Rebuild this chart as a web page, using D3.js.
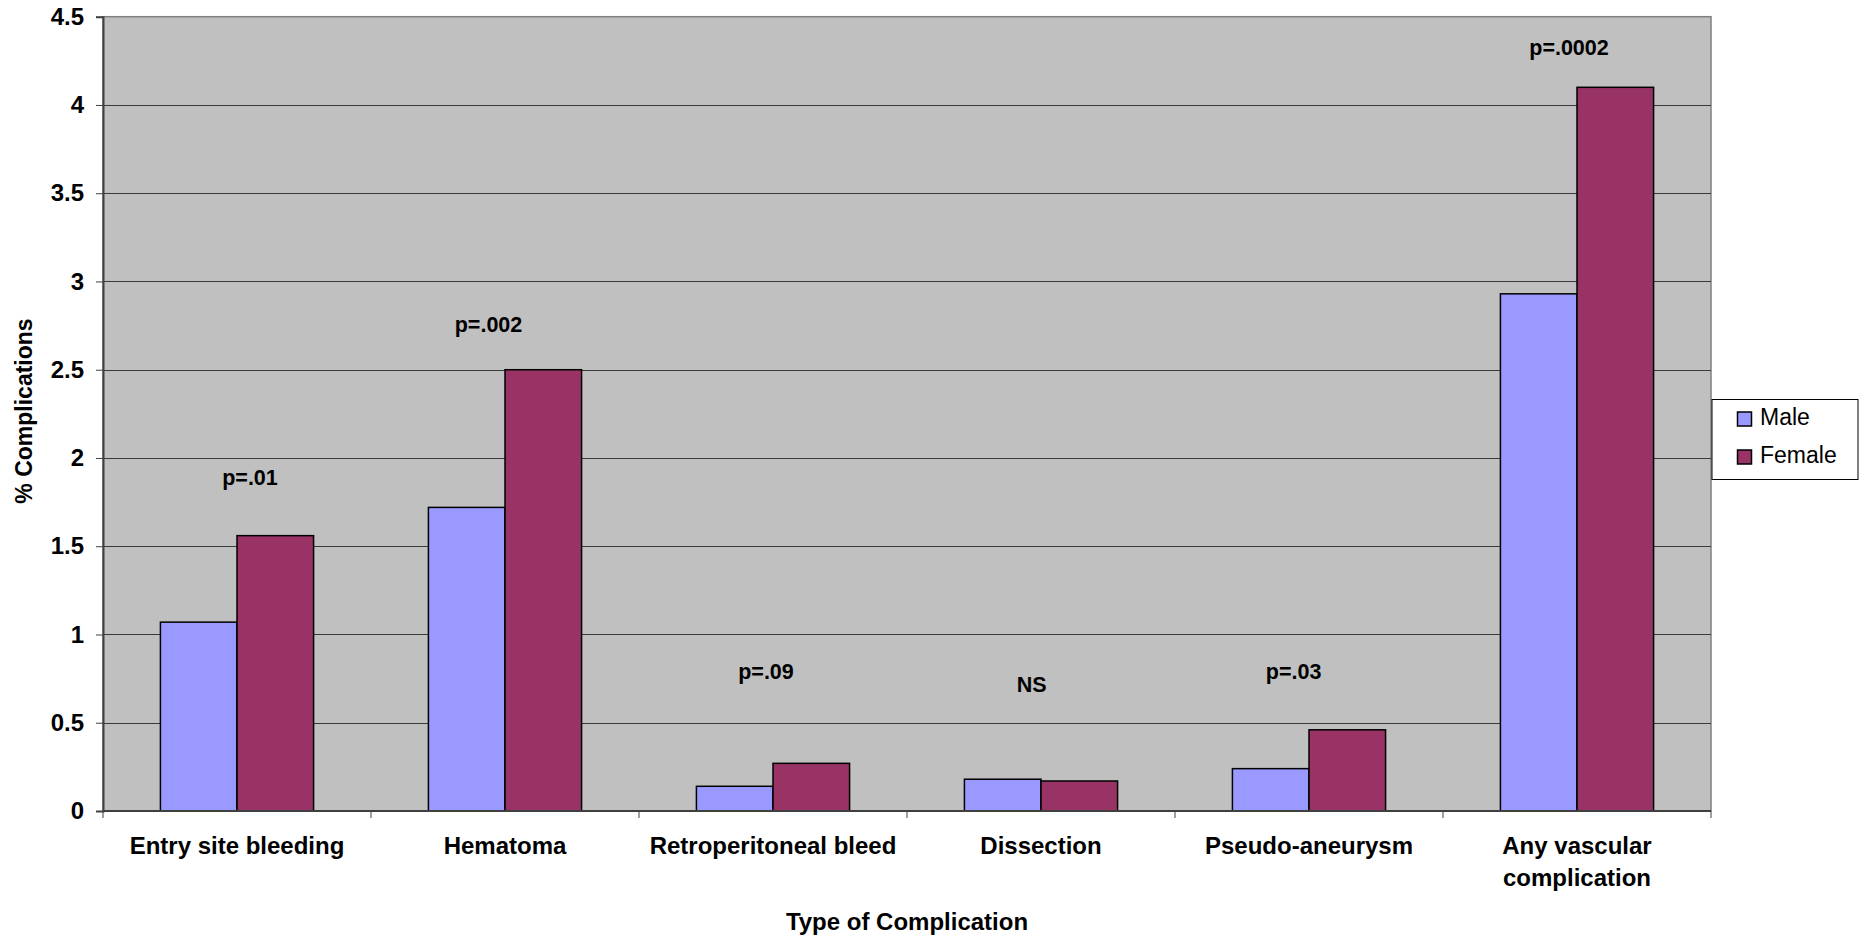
<!DOCTYPE html>
<html>
<head>
<meta charset="utf-8">
<script src="https://cdn.jsdelivr.net/npm/d3@7/dist/d3.min.js"></script>
<style>
  html, body { margin: 0; padding: 0; background: #ffffff; }
  svg { display: block; font-family: "Liberation Sans", Arial, sans-serif; }
</style>
</head>
<body>
<svg id="chart" width="1862" height="935"></svg>
<script>
// ---- data ----
const categories = ["Entry site bleeding", "Hematoma", "Retroperitoneal bleed", "Dissection", "Pseudo-aneurysm", "Any vascular complication"];
const categoryLines = [["Entry site bleeding"], ["Hematoma"], ["Retroperitoneal bleed"], ["Dissection"], ["Pseudo-aneurysm"], ["Any vascular", "complication"]];
const seriesNames = ["Male", "Female"];
const maleValues = [1.07, 1.72, 0.14, 0.18, 0.24, 2.93];
const femaleValues = [1.56, 2.50, 0.27, 0.17, 0.46, 4.10];
const pLabels = ["p=.01", "p=.002", "p=.09", "NS", "p=.03", "p=.0002"];
const pLabelLevels = [1.846, 2.712, 0.747, 0.674, 0.747, 4.281];
const yTicks = [0, 0.5, 1, 1.5, 2, 2.5, 3, 3.5, 4, 4.5];
const yTickLabels = ["0", "0.5", "1", "1.5", "2", "2.5", "3", "3.5", "4", "4.5"];
const xTitle = "Type of Complication";
const yTitle = "% Complications";

// ---- layout ----
const colors = {Male: "#9999FF", Female: "#993366"};
const plot = {left: 103, right: 1711, top: 16.7, bottom: 811};
const pLabelOffsets = [13, -16.5, -7, -9.3, -15.4, -8];

const svg = d3.select("#chart");

const x0 = d3.scaleBand().domain(categories).range([plot.left, plot.right]).padding(0);
const x1 = d3.scaleBand().domain(seriesNames).range([0, x0.bandwidth()]).paddingInner(0).paddingOuter(0.75);
const y = d3.scaleLinear().domain([0, 4.5]).range([plot.bottom, plot.top]);

// plot background
svg.append("rect")
  .attr("x", plot.left).attr("y", plot.top)
  .attr("width", plot.right - plot.left).attr("height", plot.bottom - plot.top)
  .attr("fill", "#C0C0C0")
  .attr("stroke", "#808080").attr("stroke-width", 1.5);

// gridlines
svg.append("g").selectAll("line")
  .data(yTicks.filter(v => v > 0 && v < 4.5))
  .join("line")
  .attr("x1", plot.left).attr("x2", plot.right)
  .attr("y1", d => Math.round(y(d)) + 0.5).attr("y2", d => Math.round(y(d)) + 0.5)
  .attr("stroke", "#3a3a3a").attr("stroke-width", 1);

// bars
const rows = categories.map((c, i) => ({cat: c, vals: [
  {s: "Male", v: maleValues[i]}, {s: "Female", v: femaleValues[i]}]}));

const groups = svg.append("g").selectAll("g")
  .data(rows).join("g")
  .attr("transform", d => `translate(${x0(d.cat)},0)`);

groups.selectAll("rect")
  .data(d => d.vals).join("rect")
  .attr("x", d => x1(d.s))
  .attr("y", d => y(d.v))
  .attr("width", x1.bandwidth())
  .attr("height", d => y(0) - y(d.v))
  .attr("fill", d => colors[d.s])
  .attr("stroke", "#000").attr("stroke-width", 1.5);

// y axis
const yAxis = d3.axisLeft(y)
  .tickValues(yTicks)
  .tickFormat((d, i) => yTickLabels[i])
  .tickSize(7).tickPadding(12);
const gy = svg.append("g").attr("transform", `translate(${plot.left},0)`).call(yAxis);
gy.select(".domain").attr("stroke", "#404040").attr("stroke-width", 2);
gy.selectAll(".tick line").attr("stroke", "#404040");
gy.selectAll(".tick text")
  .attr("font-size", 24).attr("font-weight", "bold").attr("fill", "#000")
  .attr("font-family", "Liberation Sans, Arial, sans-serif");

// x axis (ticks at category boundaries)
const boundaries = d3.range(categories.length + 1).map(i => plot.left + i * x0.step());
svg.append("line")
  .attr("x1", plot.left).attr("x2", plot.right)
  .attr("y1", plot.bottom).attr("y2", plot.bottom)
  .attr("stroke", "#404040").attr("stroke-width", 2);
svg.append("g").selectAll("line")
  .data(boundaries).join("line")
  .attr("x1", d => d).attr("x2", d => d)
  .attr("y1", plot.bottom).attr("y2", plot.bottom + 7)
  .attr("stroke", "#404040").attr("stroke-width", 1);

// category labels
const catText = svg.append("g").selectAll("text")
  .data(categories).join("text")
  .attr("x", d => x0(d) + x0.bandwidth() / 2)
  .attr("y", 854)
  .attr("text-anchor", "middle")
  .attr("font-size", 24).attr("font-weight", "bold").attr("fill", "#000");
catText.each(function(d, i) {
  const t = d3.select(this);
  categoryLines[i].forEach((ln, j) => {
    t.append("tspan").attr("x", x0(d) + x0.bandwidth() / 2).attr("dy", j === 0 ? 0 : 31.7).text(ln);
  });
});

// p-value annotations
svg.append("g").selectAll("text")
  .data(pLabels).join("text")
  .attr("x", (d, i) => x0(categories[i]) + x0.bandwidth() / 2 + pLabelOffsets[i])
  .attr("y", (d, i) => y(pLabelLevels[i]))
  .attr("text-anchor", "middle")
  .attr("font-size", 21.5).attr("font-weight", "bold").attr("fill", "#000")
  .text(d => d);

// axis titles
svg.append("text")
  .attr("x", (plot.left + plot.right) / 2).attr("y", 930)
  .attr("text-anchor", "middle")
  .attr("font-size", 24).attr("font-weight", "bold").attr("fill", "#000")
  .text(xTitle);
svg.append("text")
  .attr("transform", "translate(32,411) rotate(-90)")
  .attr("text-anchor", "middle")
  .attr("font-size", 23).attr("font-weight", "bold").attr("fill", "#000")
  .text(yTitle);

// legend
const legend = svg.append("g");
legend.append("rect")
  .attr("x", 1712).attr("y", 399.5).attr("width", 146).attr("height", 80)
  .attr("fill", "#fff").attr("stroke", "#000").attr("stroke-width", 1);
const legendBaselines = [425, 463];
seriesNames.forEach((s, i) => {
  legend.append("rect")
    .attr("x", 1737.5).attr("y", legendBaselines[i] - 13).attr("width", 14).attr("height", 14)
    .attr("fill", colors[s]).attr("stroke", "#000").attr("stroke-width", 1.5);
  legend.append("text")
    .attr("x", 1760).attr("y", legendBaselines[i])
    .attr("font-size", 23).attr("fill", "#000")
    .text(s);
});
</script>
</body>
</html>
